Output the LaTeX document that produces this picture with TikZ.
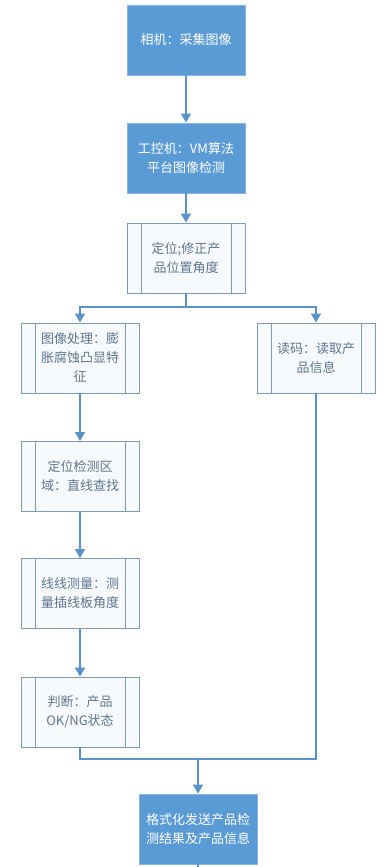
\documentclass[tikz,border=0pt]{standalone}
\usepackage{fontspec}
\setmainfont{Noto Sans CJK SC}
\usetikzlibrary{arrows.meta,calc,positioning}
\definecolor{boxblue}{HTML}{5B9BD5}
\definecolor{boxedge}{HTML}{8DB4E0}
\definecolor{flowline}{HTML}{5B93C8}
\definecolor{subedge}{HTML}{7F9BB3}
\definecolor{subfill}{HTML}{F7FAFD}
\definecolor{subtext}{HTML}{5E7690}

\begin{document}
\begin{tikzpicture}[x=1pt,y=-1pt,>={Triangle[width=10pt,length=9pt]},
  flow/.style={draw=flowline,line width=1.6pt},
  mainbox/.style={draw=boxedge,fill=boxblue,text=white,line width=0.8pt,
    minimum width=118pt,minimum height=70pt,align=center,
    font=\fontsize{13}{19}\selectfont},
  subbox/.style={draw=subedge,fill=subfill,text=subtext,line width=0.9pt,
    minimum width=118pt,minimum height=70pt,align=center,
    font=\fontsize{13}{19}\selectfont,
    path picture={
      \draw[subedge,line width=0.9pt]
        ([xshift=14pt]path picture bounding box.north west) --
        ([xshift=14pt]path picture bounding box.south west)
        ([xshift=-14pt]path picture bounding box.north east) --
        ([xshift=-14pt]path picture bounding box.south east);
    }}]
  \useasboundingbox (0,0) rectangle (383,867);

  % main column
  \node[mainbox] (cam) at (186,40) {相机：采集图像};
  \node[mainbox] (ipc) at (186,158) {工控机：VM算法\\平台图像检测};
  \node[subbox] (loc) at (186,258) {定位;修正产\\品位置角度};

  % left branch
  \node[subbox] (proc) at (80,358) {图像处理：膨\\胀腐蚀凸显特\\征};
  \node[subbox] (area) at (80,476.5) {定位检测区\\域：直线查找};
  \node[subbox] (meas) at (80,593.5) {线线测量：测\\量插线板角度};
  \node[subbox] (judge) at (80,712) {判断：产品\\OK/NG状态};

  % right branch
  \node[subbox] (read) at (316,358) {读码：读取产\\品信息};

  % output
  \node[mainbox] (fmt) at (198,829) {格式化发送产品检\\测结果及产品信息};

  \coordinate (split) at (186,307);
  \coordinate (merge) at (198,759);
  \coordinate (out) at (198,867);

  \draw[flow,->] (cam) -- (ipc);
  \draw[flow,->] (ipc) -- (loc);
  \draw[flow] (loc) -- (split);
  \draw[flow,->] (split) -| (proc);
  \draw[flow,->] (split) -| (read);
  \draw[flow,->] (proc) -- (area);
  \draw[flow,->] (area) -- (meas);
  \draw[flow,->] (meas) -- (judge);
  \draw[flow] (judge) |- (merge);
  \draw[flow] (read) |- (merge);
  \draw[flow,->] (merge) -- (fmt);
  \draw[flow] (fmt) -- (out);
\end{tikzpicture}
\end{document}
